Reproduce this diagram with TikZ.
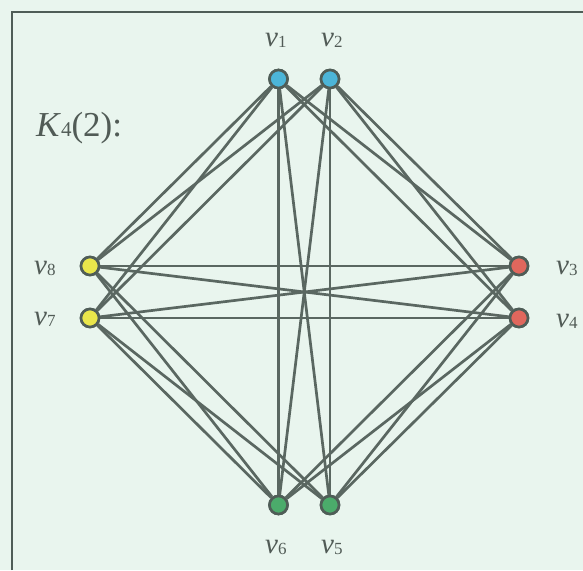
\documentclass[tikz,border=0pt]{standalone}
\usepackage{fontspec}
\setmainfont{Liberation Serif}
\definecolor{bgc}{HTML}{E9F5EE}
\definecolor{framec}{HTML}{4F5D57}
\definecolor{edgec}{HTML}{5A6761}
\definecolor{txtc}{HTML}{515B56}
\definecolor{vblue}{HTML}{4CB5D8}
\definecolor{vred}{HTML}{E0675D}
\definecolor{vgreen}{HTML}{4BAB6B}
\definecolor{vyellow}{HTML}{E9E64B}
\newcommand{\vlab}[1]{{\itshape v}\raisebox{-1.5pt}{\fontsize{17}{17}\selectfont #1}}
\begin{document}
\begin{tikzpicture}[x=1pt,y=-1pt,
  vert/.style={circle,draw=framec,line width=2.6pt,minimum size=18pt,inner sep=0pt},
  edge/.style={draw=edgec,line width=2.7pt},
  lab/.style={anchor=base west,inner sep=0pt,text=txtc,font=\fontsize{29}{29}\selectfont}]
\fill[bgc] (0,0) rectangle (583,570);
\useasboundingbox (0,0) rectangle (583,570);
\draw[framec,line width=2.8pt] (12,570) -- (12,12) -- (583,12);
\node[lab,font=\fontsize{35}{35}\selectfont] (title) at (36,136) {\textit{K}{\fontsize{21}{21}\selectfont 4}(2):};
% vertices
\node[vert,fill=vblue] (v1) at (278.5,79) {};
\node[vert,fill=vblue] (v2) at (330,79) {};
\node[vert,fill=vred] (v3) at (519,266) {};
\node[vert,fill=vred] (v4) at (519,318) {};
\node[vert,fill=vgreen] (v5) at (330,505) {};
\node[vert,fill=vgreen] (v6) at (278.5,505) {};
\node[vert,fill=vyellow] (v7) at (90,318) {};
\node[vert,fill=vyellow] (v8) at (90,266) {};
% edges
\foreach \a/\b in {v1/v3,v1/v4,v1/v5,v1/v6,v1/v7,v1/v8,
                   v2/v3,v2/v4,v2/v5,v2/v6,v2/v7,v2/v8,
                   v3/v5,v3/v6,v3/v7,v3/v8,
                   v4/v5,v4/v6,v4/v7,v4/v8,
                   v5/v7,v5/v8,v6/v7,v6/v8}
  \path[edge] (\a) -- (\b);
% redraw vertices on top
\foreach \n/\c in {v1/vblue,v2/vblue,v3/vred,v4/vred,v5/vgreen,v6/vgreen,v7/vyellow,v8/vyellow}
  \node[vert,fill=\c] at (\n) {};
% labels
\node[lab] (l1) at (265,46) {\vlab{1}};
\node[lab] (l2) at (321,46) {\vlab{2}};
\node[lab] (l3) at (556,274) {\vlab{3}};
\node[lab] (l4) at (556,327) {\vlab{4}};
\node[lab] (l5) at (321,553) {\vlab{5}};
\node[lab] (l6) at (265,553) {\vlab{6}};
\node[lab] (l7) at (34,325) {\vlab{7}};
\node[lab] (l8) at (34,274) {\vlab{8}};
\end{tikzpicture}
\end{document}
